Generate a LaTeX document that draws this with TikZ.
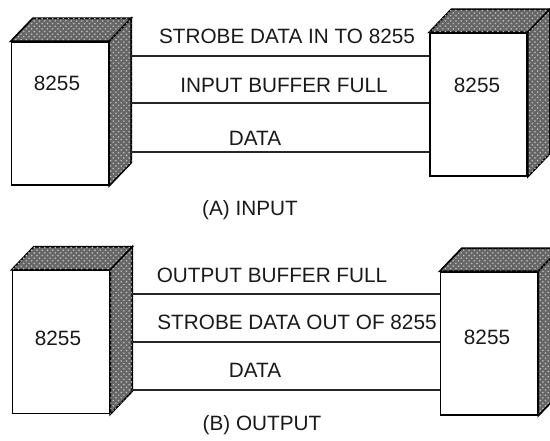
\documentclass[tikz,border=0pt]{standalone}
\usepackage{fontspec}
\setmainfont{Liberation Sans}
\usetikzlibrary{patterns}

% top and side faces of a chip box
\newcommand{\chipfaces}[1]{%
  \filldraw[face] (#1.north west) -- ([shift={(22,-23)}]#1.north west)
    -- ([shift={(22,-23)}]#1.north east) -- (#1.north east) -- cycle;
  \filldraw[face] (#1.north east) -- ([shift={(22,-23)}]#1.north east)
    -- ([shift={(22,-23)}]#1.south east) -- (#1.south east) -- cycle;
}

\begin{document}
\begin{tikzpicture}[x=0.02cm,y=-0.02cm]

\tikzset{
  chip/.style={
    draw=black,
    line width=0.9pt,
    fill=white,
    inner sep=0pt,
    minimum width=1.94cm,
    minimum height=2.86cm,
  },
  face/.style={
    draw=black,
    line width=0.9pt,
    fill=black!60,
    postaction={pattern=crosshatch dots, pattern color=black!25},
  },
  signal/.style={
    draw=black!85,
    line width=0.6pt,
  },
  caption/.style={
    inner sep=0pt,
    text=black!90,
    font=\fontsize{11.8}{14}\selectfont,
  },
}

\useasboundingbox (0,0) rectangle (550,440);

% (A) input
\node[chip] (aL) at (60,113.5) {};
\node[chip] (aR) at (478.5,104.5) {};
\chipfaces{aL}
\chipfaces{aR}
\node[caption] (aLt) at (57,83) {8255};
\node[caption] (aRt) at (477,85) {8255};

\coordinate (aLs) at ([xshift=0.44cm]aL.east);
\foreach \y in {56,103,152}
  \draw[signal] (aLs |- 0,\y) -- (aR.west |- 0,\y);

\node[caption] (strobein) at (287,36) {STROBE DATA IN TO 8255};
\node[caption] (ibf) at (284,85) {INPUT BUFFER FULL};
\node[caption] (adata) at (255,138) {DATA};
\node[caption] (atitle) at (250,210) {(A) INPUT};

% (B) output
\node[chip] (bL) at (61,342) {};
\node[chip] (bR) at (489,343.5) {};
\chipfaces{bL}
\chipfaces{bR}
\node[caption] (bLt) at (58,338) {8255};
\node[caption] (bRt) at (487,337) {8255};

\coordinate (bLs) at ([xshift=0.44cm]bL.east);
\foreach \y in {294,342,390}
  \draw[signal] (bLs |- 0,\y) -- (bR.west |- 0,\y);

\node[caption] (obf) at (272,275) {OUTPUT BUFFER FULL};
\node[caption] (strobeout) at (297,322) {STROBE DATA OUT OF 8255};
\node[caption] (bdata) at (255,370) {DATA};
\node[caption] (btitle) at (262,425) {(B) OUTPUT};

\end{tikzpicture}
\end{document}
